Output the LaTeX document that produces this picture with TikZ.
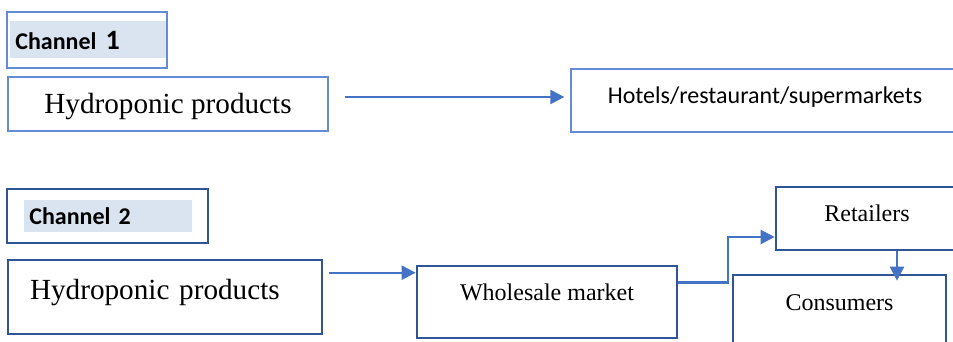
\documentclass[tikz,border=0pt]{standalone}
\usepackage{fontspec}
\setmainfont{Liberation Serif}
\newfontfamily\calibri{Carlito}
\usetikzlibrary{arrows.meta}
\definecolor{lineone}{RGB}{100,140,212}
\definecolor{linetwo}{RGB}{47,85,151}
\definecolor{arrowblue}{RGB}{68,114,196}
\definecolor{tagfill}{RGB}{218,227,240}
\tikzstyle{bthin}=[rectangle, draw=lineone, line width=0.65pt, inner sep=0pt]
\tikzstyle{bthick}=[rectangle, draw=linetwo, line width=1.3pt, inner sep=0pt]
\tikzstyle{tag}=[rectangle, fill=tagfill, inner xsep=2.5pt, inner ysep=0pt, anchor=west, align=left, font=\calibri\bfseries\fontsize{12}{14}\selectfont]
\tikzstyle{arrw}=[line width=1.15pt, draw=arrowblue, -{Triangle[length=7pt,width=7pt]}]

\begin{document}
\begin{tikzpicture}[x=0.5pt, y=-0.5pt]
\clip (0,0) rectangle (953,342);

% channel 1
\node[tag, text width=73.5pt, minimum height=18.5pt, text height=10.5pt, text depth=0pt] (tag1) at (10,39.5) {Channel\hspace{4.5pt}{\fontsize{14}{16}\selectfont 1}};
\node[bthin, minimum width=80pt, minimum height=28pt] (ch1) at (87,40) {};
\node[bthin, minimum width=160pt, minimum height=27pt, text height=10pt, text depth=0.7pt, font=\fontsize{14.6}{17}\selectfont] (hyd1) at (168,104) {Hydroponic products};
\node[bthin, minimum width=194pt, minimum height=31.5pt, text height=9pt, text depth=6.2pt, font=\calibri\fontsize{12}{14}\selectfont] (hot1) at (765,100.5) {Hotels/restaurant/supermarkets};

\draw[arrw] ([xshift=8pt,yshift=1.75pt]hyd1.east |- hot1.west) -- ([xshift=-3pt,yshift=1.75pt]hot1.west);

% channel 2
\node[tag, text width=79pt, minimum height=16pt] (tag2) at (24,216) {Channel 2};
\node[bthick, minimum width=100.5pt, minimum height=27pt] (ch2) at (107.5,216) {};
\node[bthick, minimum width=157pt, minimum height=37pt, text width=135pt, align=left, text height=10pt, text depth=8pt, font=\fontsize{14.6}{17}\selectfont] (hyd2) at (165,297) {Hydroponic products};
\node[bthick, minimum width=130pt, minimum height=36pt, text height=8.2pt, text depth=10.2pt, font=\fontsize{12}{14}\selectfont] (whole) at (547,302) {Wholesale market};
\node[bthick, minimum width=91pt, minimum height=31.5pt, text height=8.2pt, text depth=5pt, font=\fontsize{12}{14}\selectfont] (retail) at (867,218.5) {Retailers};
\node[bthick, minimum width=106.5pt, minimum height=37.5pt, text height=8.2pt, text depth=10.7pt, font=\fontsize{12}{14}\selectfont] (cons) at (839.5,312.5) {Consumers};

\coordinate (a2) at ([yshift=-4pt]whole.north west);
\draw[arrw] (hyd2.east |- a2) ++(3pt,0) -- (a2);
\draw[arrw] ([yshift=9.75pt]whole.east) -- ++(25pt,0) |- ([yshift=-9.25pt]retail.west);
\draw[arrw] (retail.south -| 897,0) -- ([yshift=-3.5pt]cons.north -| 897,0);

\end{tikzpicture}
\end{document}
